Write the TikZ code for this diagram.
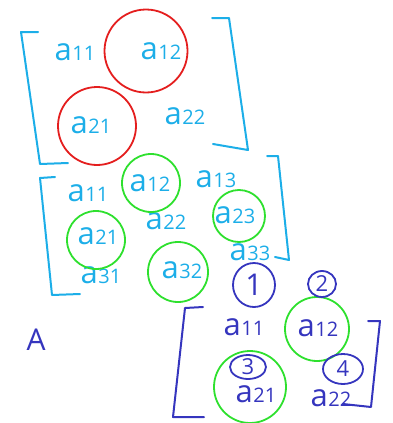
\documentclass[tikz,border=0pt]{standalone}
\usepackage{fontspec}
\setmainfont{Open Sans}
\usetikzlibrary{shapes.geometric}
\definecolor{cy}{HTML}{1CAEE8}
\definecolor{rd}{HTML}{E41E1E}
\definecolor{gr}{HTML}{2EE02E}
\definecolor{db}{HTML}{3535BE}
\newcommand{\mye}[1]{{\fontsize{31}{31}\selectfont a}\kern0.5pt{\fontsize{20}{20}\selectfont #1}}
\begin{document}
\begin{tikzpicture}[x=1pt,y=-1pt,
  brk/.style={line width=2pt,line cap=round,line join=round},
  ent/.style={inner sep=0pt,anchor=center},
  ring/.style={circle,draw,line width=1.8pt,inner sep=0pt},
  num/.style={ellipse,draw=db,line width=1.8pt,text=db,inner sep=0pt,font=\fontsize{22}{22}\selectfont}]
\useasboundingbox (0,0) rectangle (393,423);
% ---------- matrix 1 ----------
\draw[brk,cy] (38,32) -- (21,32) -- (40,164) -- (68,163);
\draw[brk,cy] (212,18) -- (229,18) -- (248,150) -- (213,144);
\node[ent,text=cy] (m1a11) at (75,52) {\mye{11}};
\node[ent,text=cy] (m1a12) at (161,51) {\mye{12}};
\node[ent,text=cy] (m1a21) at (91,125) {\mye{21}};
\node[ent,text=cy] (m1a22) at (185,116) {\mye{22}};
\node[ring,draw=rd,minimum size=83pt] (c1) at (146,51) {};
\node[ring,draw=rd,minimum size=78pt] (c2) at (97,126) {};
% ---------- matrix 2 ----------
\draw[brk,cy] (55,177) -- (40,178) -- (52,295) -- (80,294);
\draw[brk,cy] (267,156) -- (278,156) -- (289,260) -- (275,257);
\node[ent,text=cy] (m2a11) at (88,193) {\mye{11}};
\node[ent,text=cy] (m2a12) at (150,183) {\mye{12}};
\node[ent,text=cy] (m2a13) at (216,179) {\mye{13}};
\node[ent,text=cy] (m2a21) at (98,236) {\mye{21}};
\node[ent,text=cy] (m2a22) at (166,221) {\mye{22}};
\node[ent,text=cy] (m2a23) at (235,215) {\mye{23}};
\node[ent,text=cy] (m2a31) at (101,275) {\mye{31}};
\node[ent,text=cy] (m2a32) at (182,270) {\mye{32}};
\node[ent,text=cy] (m2a33) at (250,252) {\mye{33}};
\node[ring,draw=gr,minimum size=58pt] (g1) at (151,183) {};
\node[ring,draw=gr,minimum size=58pt] (g2) at (96,240) {};
\node[ring,draw=gr,minimum size=52pt] (g3) at (239,216) {};
\node[ring,draw=gr,minimum size=60pt] (g4) at (178,272) {};
% ---------- matrix 3 ----------
\draw[brk,db] (203,307) -- (185,308) -- (173,417) -- (204,417);
\draw[brk,db] (368,321) -- (380,321) -- (371,407) -- (343,404);
\node[ent,text=db] (m3a11) at (244,327) {\mye{11}};
\node[ent,text=db] (m3a12) at (318,328) {\mye{12}};
\node[ent,text=db] (m3a21) at (256,394) {\mye{21}};
\node[ent,text=db] (m3a22) at (331,398) {\mye{22}};
\node[ring,draw=gr,minimum size=64pt] (g5) at (317,329) {};
\node[ring,draw=gr,minimum size=72pt] (g6) at (250,387) {};
\node[num,minimum width=42pt,minimum height=44pt,font=\fontsize{30}{30}\selectfont] (n1) at (254,285) {1};
\node[num,minimum width=28pt,minimum height=26pt] (n2) at (322,284) {2};
\node[num,minimum width=36pt,minimum height=24pt] (n3) at (248,367) {3};
\node[num,minimum width=40pt,minimum height=30pt] (n4) at (343,369) {4};
\node[ent,text=db,font=\fontsize{30}{30}\selectfont] (lblA) at (36,340) {A};
\end{tikzpicture}
\end{document}
